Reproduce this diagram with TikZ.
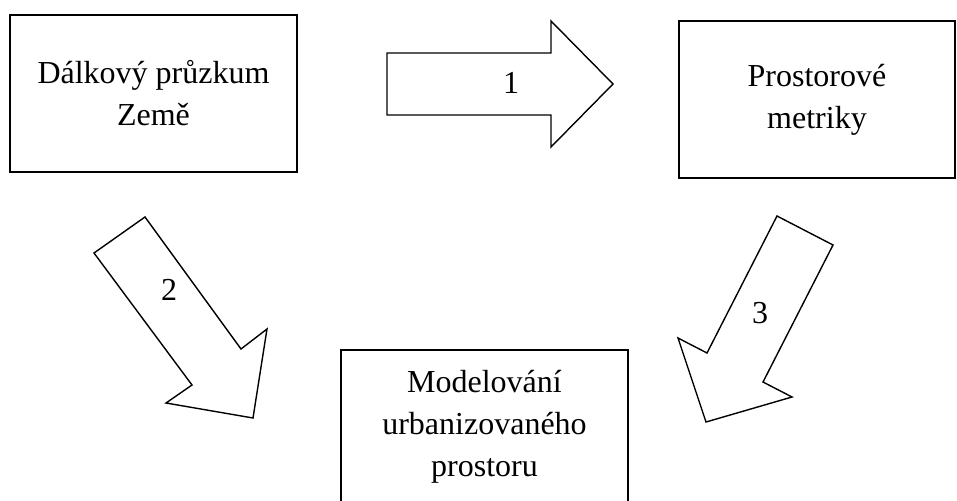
\documentclass[tikz,border=0pt]{standalone}
\usepackage{fontspec}
\setmainfont{Liberation Serif}
\begin{document}
\begin{tikzpicture}[x=1pt,y=-1pt,
  box/.style={draw=black, line width=1.6pt, fill=white, inner sep=0pt, align=center,
    font=\fontsize{32}{42}\selectfont},
  blockarrow/.style={draw=black, line width=1.4pt, fill=white, line join=miter},
  num/.style={inner sep=0pt, font=\fontsize{32}{38}\selectfont}]
\useasboundingbox (0,0) rectangle (957,500);
\clip (0,0) rectangle (957,500);
\fill[white] (0,0) rectangle (957,500);
% boxes
\node[box, minimum width=287pt, minimum height=157pt] (dpz) at (153.5,93.5) {Dálkový průzkum\\Země};
\node[box, minimum width=276pt, minimum height=157pt] (pm) at (817,99.5) {Prostorové\\metriky};
\node[box, minimum width=287pt, minimum height=154pt] (mup) at (484.5,427) {Modelování\\urbanizovaného\\prostoru};
% arrow 1
\draw[blockarrow] (387,53) -- (551,53) -- (551,21) -- (613,84) -- (551,147) -- (551,115) -- (387,115) -- cycle;
\node[num] (n1) at (511,83) {1};
% arrow 2
\draw[blockarrow] (94,253) -- (145,217) -- (241,349) -- (267,329) -- (253,418) -- (166,403) -- (192,385) -- cycle;
\node[num] (n2) at (169,290) {2};
% arrow 3
\draw[blockarrow] (777,216) -- (833,245) -- (763,382) -- (792,397) -- (706,422) -- (678,338) -- (707,353) -- cycle;
\node[num] (n3) at (760,313) {3};
\end{tikzpicture}
\end{document}
